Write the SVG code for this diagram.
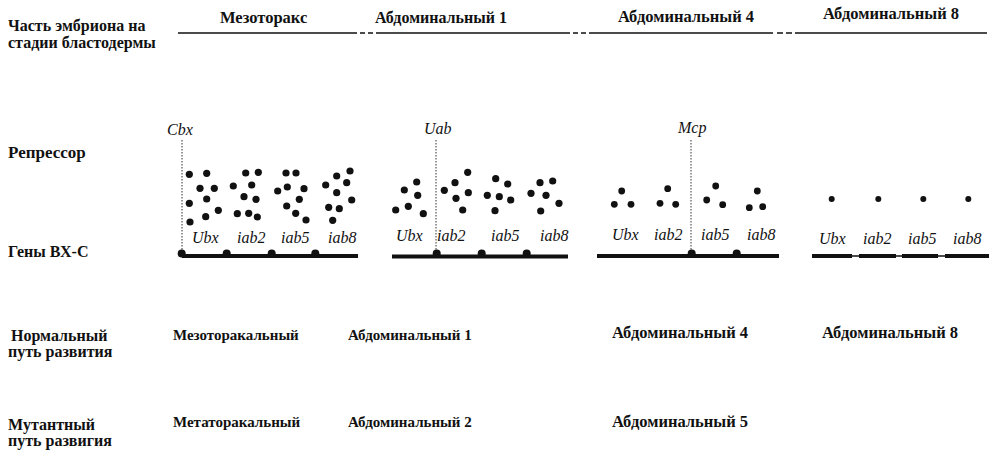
<svg xmlns="http://www.w3.org/2000/svg" width="997" height="453" viewBox="0 0 997 453">
<style>
.t{font-family:"Liberation Serif","Times New Roman",serif;font-size:15px;font-weight:bold;fill:#111}
.L{font-size:16px}
.g{font-family:"Liberation Serif","Times New Roman",serif;font-size:16px;font-style:italic;fill:#111}
.d{fill:#111}
.dot{stroke:#333;stroke-width:1;stroke-dasharray:1.5 1.5;fill:none}
.gene{stroke:#111;stroke-width:4;fill:none}
.hl{stroke:#111;stroke-width:1.5;fill:none}
</style>
<rect width="997" height="453" fill="#fff"/>

<g id="row-labels">
<text class="t L" x="8" y="31">Часть эмбриона на</text>
<text class="t L" x="8" y="48">стадии бластодермы</text>
<text class="t" x="8" y="158" style="font-size:17px">Репрессор</text>
<text class="t L" x="8" y="257">Гены ВХ-С</text>
<text class="t L" x="11" y="341">Нормальный</text>
<text class="t L" x="8" y="357">путь развития</text>
<text class="t L" x="8" y="430">Мутантный</text>
<text class="t L" x="8" y="446">путь развигия</text>
</g>

<g id="header">
<text class="t" x="220" y="23" style="font-size:16.5px">Мезоторакс</text>
<text class="t L" x="375" y="23">Абдоминальный 1</text>
<text class="t" x="618" y="22" style="font-size:16.5px">Абдоминальный 4</text>
<text class="t" x="823" y="19" style="font-size:16.5px">Абдоминальный 8</text>
<path class="hl" d="M178 33H357M360 33H365M368 33H373M376 33H570M573 33H578M581 33H586M589 33H773M777 33H783M786 33H792M795 33H987"/>
</g>

<g id="connectors">
<line class="dot" x1="182" y1="140" x2="182" y2="250"/>
<line class="dot" x1="436" y1="140" x2="436" y2="250"/>
<line class="dot" x1="691" y1="140" x2="691" y2="250"/>
</g>

<g id="mesothorax">
<text class="g" x="167" y="135">Cbx</text>
<g class="d">
<circle cx="189.3" cy="174.3" r="3.6"/><circle cx="206.7" cy="173.3" r="3.6"/><circle cx="200" cy="188.3" r="3.6"/><circle cx="214.3" cy="188.3" r="3.6"/><circle cx="189.3" cy="203.3" r="3.6"/><circle cx="206.7" cy="199" r="3.6"/><circle cx="218.3" cy="210.3" r="3.6"/><circle cx="205.7" cy="216.7" r="3.6"/><circle cx="190" cy="222" r="3.6"/>
<circle cx="245.7" cy="173" r="3.6"/><circle cx="258.3" cy="172.3" r="3.6"/><circle cx="233.3" cy="186" r="3.6"/><circle cx="251.7" cy="185" r="3.6"/><circle cx="244" cy="196.7" r="3.6"/><circle cx="256" cy="199.3" r="3.6"/><circle cx="237.3" cy="213.7" r="3.6"/><circle cx="248.7" cy="213.3" r="3.6"/><circle cx="257.3" cy="217" r="3.6"/>
<circle cx="286" cy="173" r="3.6"/><circle cx="296" cy="173" r="3.6"/><circle cx="277.7" cy="191" r="3.6"/><circle cx="287.3" cy="187" r="3.6"/><circle cx="304" cy="188.7" r="3.6"/><circle cx="299.3" cy="199.3" r="3.6"/><circle cx="286.7" cy="206" r="3.6"/><circle cx="295.7" cy="213.3" r="3.6"/><circle cx="306" cy="220" r="3.6"/>
<circle cx="350" cy="171" r="3.6"/><circle cx="336.7" cy="176" r="3.6"/><circle cx="325.7" cy="185" r="3.6"/><circle cx="346.7" cy="182.7" r="3.6"/><circle cx="336.7" cy="192.7" r="3.6"/><circle cx="351.7" cy="200" r="3.6"/><circle cx="328.7" cy="207.3" r="3.6"/><circle cx="339.3" cy="208.7" r="3.6"/><circle cx="332.7" cy="220.3" r="3.6"/>
</g>
<text class="g" x="192" y="243">Ubx</text>
<text class="g" x="237" y="243">iab2</text>
<text class="g" x="281" y="243">iab5</text>
<text class="g" x="328" y="243">iab8</text>
<line class="gene" x1="182" y1="256" x2="358" y2="256"/>
<g class="d"><circle cx="181.7" cy="253.5" r="4"/><circle cx="226.7" cy="253.5" r="4"/><circle cx="271.7" cy="253.5" r="4"/><circle cx="315.3" cy="253.5" r="4"/></g>
</g>

<g id="abdominal1">
<text class="g" x="424" y="134">Uab</text>
<g class="d">
<circle cx="416.7" cy="182" r="3.6"/><circle cx="404.3" cy="190" r="3.6"/><circle cx="417.7" cy="195.3" r="3.6"/><circle cx="395.7" cy="210" r="3.6"/><circle cx="408.3" cy="206.3" r="3.6"/><circle cx="423.3" cy="213.7" r="3.6"/>
<circle cx="467.7" cy="172.3" r="3.6"/><circle cx="455" cy="182.7" r="3.6"/><circle cx="444.3" cy="190.3" r="3.6"/><circle cx="468.3" cy="192.7" r="3.6"/><circle cx="456" cy="198.3" r="3.6"/><circle cx="462.7" cy="210" r="3.6"/>
<circle cx="495.7" cy="178.7" r="3.6"/><circle cx="507.7" cy="184" r="3.6"/><circle cx="487.3" cy="195.3" r="3.6"/><circle cx="499.3" cy="196.7" r="3.6"/><circle cx="510.7" cy="200" r="3.6"/><circle cx="495" cy="210.7" r="3.6"/>
<circle cx="540" cy="182.7" r="3.6"/><circle cx="552.7" cy="181" r="3.6"/><circle cx="531" cy="193.3" r="3.6"/><circle cx="546" cy="195.3" r="3.6"/><circle cx="559" cy="203.3" r="3.6"/><circle cx="540.7" cy="211" r="3.6"/>
</g>
<text class="g" x="396" y="241">Ubx</text>
<text class="g" x="437" y="241">iab2</text>
<text class="g" x="491" y="241">iab5</text>
<text class="g" x="540" y="241">iab8</text>
<line class="gene" x1="392" y1="256.5" x2="568" y2="256.5"/>
<g class="d"><circle cx="436.7" cy="253.5" r="4"/><circle cx="481.7" cy="253.5" r="4"/><circle cx="526.7" cy="253.5" r="4"/></g>
</g>

<g id="abdominal4">
<text class="g" x="678" y="133">Mcp</text>
<g class="d">
<circle cx="621.7" cy="191" r="3.4"/><circle cx="614.3" cy="204.3" r="3.4"/><circle cx="631" cy="204.3" r="3.4"/>
<circle cx="667.7" cy="188.7" r="3.4"/><circle cx="660" cy="203.3" r="3.4"/><circle cx="675.7" cy="204.3" r="3.4"/>
<circle cx="715.7" cy="186" r="3.4"/><circle cx="706.7" cy="200" r="3.4"/><circle cx="722.7" cy="204.7" r="3.4"/>
<circle cx="757.3" cy="191" r="3.4"/><circle cx="749.3" cy="207.7" r="3.4"/><circle cx="762.7" cy="206.7" r="3.4"/>
</g>
<text class="g" x="612" y="240">Ubx</text>
<text class="g" x="654" y="240">iab2</text>
<text class="g" x="701" y="240">iab5</text>
<text class="g" x="747" y="240">iab8</text>
<line class="gene" x1="597" y1="256" x2="779" y2="256"/>
<g class="d"><circle cx="691.7" cy="253.5" r="4"/><circle cx="736.7" cy="253.5" r="4"/></g>
</g>

<g id="abdominal8">
<g class="d">
<circle cx="831.7" cy="199" r="3"/><circle cx="878.3" cy="199" r="3"/><circle cx="923.3" cy="199" r="3"/><circle cx="968.3" cy="199" r="3"/>
</g>
<text class="g" x="819" y="244">Ubx</text>
<text class="g" x="863" y="244">iab2</text>
<text class="g" x="908" y="244">iab5</text>
<text class="g" x="953" y="244">iab8</text>
<path class="gene" d="M812 256H852M859 256H896M902 256H938M945 256H989"/>
<path class="hl" d="M852 256H859M896 256H902M938 256H945"/>
</g>

<g id="outcomes">
<text class="t" x="173" y="340">Мезоторакальный</text>
<text class="t" x="348" y="340">Абдоминальный 1</text>
<text class="t" x="612" y="338" style="font-size:16.5px">Абдоминальный 4</text>
<text class="t" x="822" y="338" style="font-size:16.5px">Абдоминальный 8</text>
<text class="t" x="173" y="427">Метаторакальный</text>
<text class="t" x="348" y="427">Абдоминальный 2</text>
<text class="t" x="612" y="427" style="font-size:16.5px">Абдоминальный 5</text>
</g>
</svg>
